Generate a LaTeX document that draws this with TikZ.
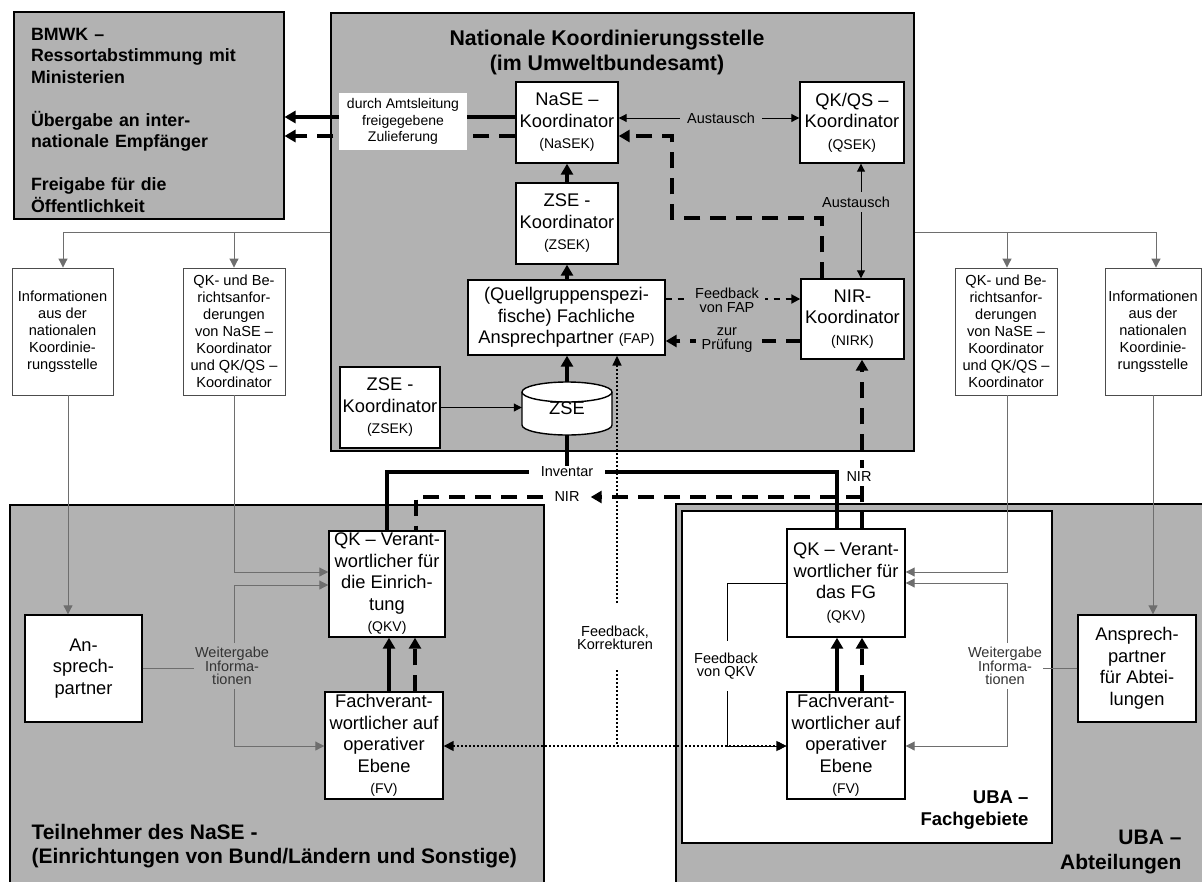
\documentclass[tikz,border=0pt]{standalone}
\usepackage{fontspec}
\setmainfont{Liberation Sans}
\usetikzlibrary{arrows.meta}
\definecolor{boxgray}{HTML}{B2B2B2}
\definecolor{linegray}{HTML}{6E6E6E}
\newcommand\myfs[2]{\fontsize{#1}{#2}\selectfont}
\begin{document}
\begin{tikzpicture}[x=1pt,y=-1pt,
  bg/.style={draw=black, fill=boxgray, line width=1.5pt},
  wbox/.style={draw=black, fill=white, line width=1.4pt, inner sep=0pt, align=center, font=\myfs{18.3}{21.5}},
  sbox/.style={draw=black!70, fill=white, line width=0.9pt, inner sep=0pt, align=center, font=\myfs{14.6}{17}},
  lbl/.style={inner sep=1pt, align=center, font=\myfs{14.5}{14}},
  thk/.style={line width=3.5pt},
  thkarr/.style={line width=3.5pt, -{Triangle[length=11pt,width=12pt]}},
  tdash/.style={dash pattern=on 16pt off 10pt},
  thinarr/.style={line width=1pt, -{Triangle[length=8pt,width=8pt]}},
  info/.style={line width=1pt, draw=linegray},
  infoarr/.style={info, -{Triangle[length=9pt,width=9pt]}},
  dotl/.style={line width=1.6pt, dash pattern=on 1.6pt off 2.4pt},
]
\useasboundingbox (0,0) rectangle (1202,881);
\clip (0,0) rectangle (1202,881);

% ---------- background boxes
\node[bg, minimum width=270, minimum height=207, anchor=north west] (bmwk) at (13,11) {};
\node[text width=240pt, inner sep=0pt, align=left, font=\bfseries\myfs{17.8}{21.5}] (bmwkt) at (151,120) {BMWK –\\Ressortabstimmung mit\\Ministerien\\[21.5pt]Übergabe an inter-\\nationale Empfänger\\[21.5pt]Freigabe für die\\Öffentlichkeit};
\node[bg, minimum width=583, minimum height=438, anchor=north west] (nks) at (330,12) {};
\node[font=\bfseries\myfs{21.3}{25}, align=center] (nkst) at (607,52) {Nationale Koordinierungsstelle\\(im Umweltbundesamt)};
\node[bg, minimum width=534, minimum height=400, anchor=north west] (tn) at (9,504) {};
\node[bg, minimum width=540, minimum height=400, anchor=north west] (uba) at (675,503) {};
\node[draw=black, fill=white, line width=1.5pt, minimum width=370, minimum height=332, anchor=north west] (fg) at (681,510) {};
\node[anchor=west, font=\bfseries\myfs{21}{24.5}, align=left] (tnt) at (28,846) {Teilnehmer des NaSE -\\(Einrichtungen von Bund/Ländern und Sonstige)};
\node[anchor=east, font=\bfseries\myfs{18.5}{22}, align=right] (fgt) at (1032,810) {UBA –\\Fachgebiete};
\node[anchor=east, font=\bfseries\myfs{21}{25}, align=right] (ubat) at (1185,852) {UBA –\\Abteilungen};

% ---------- central boxes
\node[wbox, minimum width=102, minimum height=81] (nase) at (567,122.5) {NaSE –\\Koordinator\\{\myfs{14}{17}(NaSEK)}};
\node[wbox, minimum width=104, minimum height=81] (qkqs) at (852,122.5) {QK/QS –\\Koordinator\\{\myfs{14}{17}(QSEK)}};
\node[wbox, minimum width=102, minimum height=81] (zseu) at (567,223.5) {ZSE -\\Koordinator\\{\myfs{14}{17}(ZSEK)}};
\node[wbox, minimum width=197, minimum height=75] (fap) at (566.5,317.5) {(Quellgruppenspezi-\\fische) Fachliche\\Ansprechpartner {\myfs{14}{17}(FAP)}};
\node[wbox, minimum width=103, minimum height=80] (nir) at (852.5,319) {NIR-\\Koordinator\\{\myfs{14}{17}(NIRK)}};
\node[wbox, minimum width=100, minimum height=81] (zsek) at (390,407.5) {ZSE -\\Koordinator\\{\myfs{14}{17}(ZSEK)}};
% cylinder
\draw[line width=1.4pt, fill=white] (522,392) -- (522,425) arc[start angle=180, end angle=0, x radius=45, y radius=10] -- (612,392) arc[start angle=0, end angle=-180, x radius=45, y radius=10] -- cycle;
\draw[line width=1.4pt] (522,392) arc[start angle=180, end angle=0, x radius=45, y radius=10];
\node[minimum width=90, minimum height=53, inner sep=0pt, font=\myfs{18.3}{21.5}] (zse) at (567,408.5) {\raisebox{-5pt}{ZSE}};

% ---------- side boxes
\node[sbox, minimum width=101, minimum height=127] (infol) at (62.5,331.5) {Informationen\\aus der\\nationalen\\Koordinie-\\rungsstelle};
\node[sbox, minimum width=102, minimum height=127] (qkl) at (234,331.5) {QK- und Be-\\richtsanfor-\\derungen\\von NaSE –\\Koordinator\\und QK/QS –\\Koordinator};
\node[sbox, minimum width=102, minimum height=127] (qkr) at (1006,331.5) {QK- und Be-\\richtsanfor-\\derungen\\von NaSE –\\Koordinator\\und QK/QS –\\Koordinator};
\node[sbox, minimum width=96, minimum height=127] (infor) at (1153,331.5) {Informationen\\aus der\\nationalen\\Koordinie-\\rungsstelle};

% ---------- bottom boxes
\node[wbox, minimum width=117, minimum height=107] (ansl) at (83.5,668.5) {An-\\sprech-\\partner};
\node[wbox, minimum width=116, minimum height=106] (qkvl) at (387,584) {QK – Verant-\\wortlicher für\\die Einrich-\\tung\\{\myfs{14}{17}(QKV)}};
\node[wbox, minimum width=118, minimum height=107] (fvl) at (384,745.5) {Fachverant-\\wortlicher auf\\operativer\\Ebene\\{\myfs{14}{17}(FV)}};
\node[wbox, minimum width=118, minimum height=108] (qkvr) at (846,583) {QK – Verant-\\wortlicher für\\das FG\\{\myfs{14}{17}(QKV)}};
\node[wbox, minimum width=118, minimum height=107] (fvr) at (846,745.5) {Fachverant-\\wortlicher auf\\operativer\\Ebene\\{\myfs{14}{17}(FV)}};
\node[wbox, minimum width=118, minimum height=107] (ansr) at (1137,668.5) {Ansprech-\\partner\\für Abtei-\\lungen};

% ---------- connectors in central box
\draw[thkarr] (nase.west |- 0,117) -- (bmwk.east |- 0,117);
\draw[thkarr, tdash] (nase.west |- 0,136) -- (bmwk.east |- 0,136);
\node[fill=white, minimum width=128, minimum height=57, inner sep=0pt, align=center, font=\myfs{14}{16.5}] (amt) at (403,121.5) {durch Amtsleitung\\freigegebene\\Zulieferung};

\draw[thkarr] (zseu.north) -- (nase.south);
\draw[thkarr] (zseu.south |- fap.north) -- (zseu.south);
\draw[thkarr] (zse.north) -- (zse.north |- fap.south);
\draw[thinarr] (zsek.east) -- (zsek.east -| zse.west);

\draw[line width=1pt, {Triangle[length=8pt,width=8pt]}-{Triangle[length=8pt,width=8pt]}] (nase.east |- 0,118) -- (qkqs.west |- 0,118);
\node[lbl, fill=boxgray, inner xsep=7pt] (aus1) at (721,118) {Austausch};
\draw[line width=1pt, {Triangle[length=8pt,width=8pt]}-{Triangle[length=8pt,width=8pt]}] (qkqs.south -| 861,0) -- (nir.north -| 861,0);
\node[lbl, fill=boxgray, inner ysep=5pt] (aus2) at (856,202) {Austausch};

\draw[thkarr, tdash] (nir.north -| 822,0) -- (822,218) -- (672,218) -- (672,136) -- (nase.east |- 0,136);

\draw[line width=2pt, dash pattern=on 6pt off 6pt, -{Triangle[length=9pt,width=9pt]}] (fap.east |- 0,299) -- (nir.west |- 0,299);
\node[lbl, fill=boxgray, inner xsep=6pt] (fbf) at (727,300) {Feedback\\von FAP};
\draw[thkarr, dash pattern=on 14pt off 10pt] (nir.west |- 0,341) -- (fap.east |- 0,341);
\node[lbl, fill=boxgray, inner xsep=6pt] (zp) at (727,340) {zur\\Prüfung};

% ---------- Inventar / NIR
\node[lbl, inner xsep=12pt] (inv) at (567,472) {Inventar};
\draw[thk] (zse.south) -- (inv.north);
\draw[thk] (inv.west) -- (387,472) -- (qkvl.north -| 387,0);
\draw[thk] (inv.east) -- (837,472) -- (qkvr.north -| 837,0);

\draw[thkarr, tdash] (qkvr.north -| 862,0) -- (nir.south -| 862,0);
\node[lbl, fill=white, inner ysep=4pt] (nirv) at (859,477) {NIR};
\coordinate (nirj) at (862,497);
\node[lbl, inner xsep=11pt] (nirh) at (567,497) {NIR};
\draw[thkarr, tdash] (nirj) -- (nirh.east);
\draw[thk, tdash] (nirh.west) -- (416,497) -- (qkvl.north -| 416,0);

% ---------- FV -> QKV
\draw[thkarr] (fvl.north -| 389,0) -- (qkvl.south -| 389,0);
\draw[thkarr, tdash] (fvl.north -| 415,0) -- (qkvl.south -| 415,0);
\draw[thkarr] (fvr.north -| 837,0) -- (qkvr.south -| 837,0);
\draw[thkarr, tdash] (fvr.north -| 862,0) -- (qkvr.south -| 862,0);

% ---------- dotted feedback
\coordinate (dj) at (617,746);
\coordinate (dtop) at (617,603);
\coordinate (dbot) at (617,670);
\draw[dotl, {Triangle[length=10pt,width=10pt]}-{Triangle[length=10pt,width=10pt]}] (fvl.east |- dj) -- (fvr.west |- dj);
\draw[dotl, -{Triangle[length=10pt,width=9pt]}] (dtop) -- (fap.south -| dtop);
\draw[dotl] (dbot) -- (dj);
\node[lbl, font=\myfs{14.5}{13}] (fbk) at (615,638) {Feedback,\\Korrekturen};

% ---------- Feedback von QKV
\node[lbl, font=\myfs{14.5}{13}, inner ysep=12pt] (fbq) at (726,666) {Feedback\\von QKV};
\draw[line width=1pt] (qkvr.west |- 0,583) -- (727,583) -- (fbq.north -| 727,0);
\draw[thinarr] (fbq.south -| 727,0) -- (727,746) -- (fvr.west |- 0,746);

% ---------- information lines
\node[lbl, font=\myfs{14.5}{13}, inner ysep=4pt, text=black!80] (wgl) at (232,666) {Weitergabe\\Informa-\\tionen};
\node[lbl, font=\myfs{14.5}{13}, inner ysep=4pt, text=black!80] (wgr) at (1005,666) {Weitergabe\\Informa-\\tionen};

\draw[infoarr] (nks.west |- 0,232) -- (63,232) -- (infol.north -| 63,0);
\draw[infoarr] (234,232) -- (qkl.north -| 234,0);
\draw[infoarr] (nks.east |- 0,232) -- (1156,232) -- (infor.north -| 1156,0);
\draw[infoarr] (1007,232) -- (qkr.north -| 1007,0);
\draw[infoarr] (infol.south -| 68,0) -- (ansl.north -| 68,0);
\draw[infoarr] (qkl.south) -- (234,572) -- (qkvl.west |- 0,572);
\draw[infoarr] (infor.south -| 1153,0) -- (ansr.north -| 1153,0);
\draw[infoarr] (qkr.south -| 1007,0) -- (1007,572) -- (qkvr.east |- 0,572);

\draw[info] (ansl.east) -- (wgl.west |- ansl.east);
\draw[infoarr] (wgl.north -| 234,0) -- (234,585) -- (qkvl.west |- 0,585);
\draw[infoarr] (wgl.south -| 234,0) -- (234,746) -- (fvl.west |- 0,746);
\draw[info] (ansr.west) -- (wgr.east |- ansr.west);
\draw[infoarr] (wgr.north -| 1007,0) -- (1007,583) -- (qkvr.east |- 0,583);
\draw[infoarr] (wgr.south -| 1007,0) -- (1007,746) -- (fvr.east |- 0,746);
\end{tikzpicture}
\end{document}
